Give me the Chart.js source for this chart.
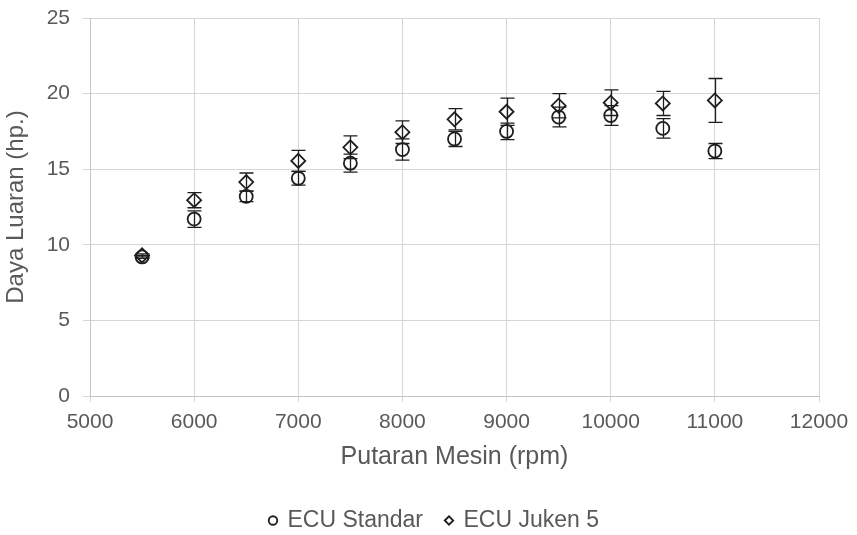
<!DOCTYPE html>
<html>
<head>
<meta charset="utf-8">
<script src="https://cdn.jsdelivr.net/npm/chart.js@4/dist/chart.umd.min.js"></script>
<style>
  html, body { margin: 0; padding: 0; background: #ffffff; }
  #wrap { width: 857px; height: 535px; }
</style>
</head>
<body>
<div id="wrap"><canvas id="chart" width="857" height="535"></canvas></div>
<script>
// Engine speed (rpm)
const rpm = [5500, 6000, 6500, 7000, 7500, 8000, 8500, 9000, 9500, 10000, 10500, 11000];

// Output power (hp) for the stock ECU, with error bar half-widths
const standar    = [9.2, 11.7, 13.2, 14.4, 15.4, 16.3, 17.0, 17.5, 18.45, 18.55, 17.7, 16.2];
const standarErr = [0.1, 0.55, 0.35, 0.45, 0.6, 0.7, 0.5, 0.55, 0.65, 0.65, 0.65, 0.5];

// Output power (hp) for the Juken 5 ECU, with error bar half-widths
const juken    = [9.3, 12.95, 14.15, 15.55, 16.45, 17.45, 18.3, 18.8, 19.2, 19.4, 19.35, 19.55];
const jukenErr = [0.1, 0.5, 0.6, 0.7, 0.75, 0.75, 0.7, 0.9, 0.8, 0.85, 0.8, 1.45];

// Axis tick values
const xTicks = [5000, 6000, 7000, 8000, 9000, 10000, 11000, 12000];
const yTicks = [0, 5, 10, 15, 20, 25];

const seriesNames = ['ECU Standar', 'ECU Juken 5'];

const textColor = '#595959';
const gridColor = '#d6d6d6';
const markColor = '#1e1e1e';
const fontFamily = '"Liberation Sans", Arial, sans-serif';

function toPoints(values) {
  return rpm.map((r, i) => ({ x: r, y: values[i] }));
}

// Vertical error bars with caps, drawn on top of the markers
const errorBars = {
  id: 'errorBars',
  afterDatasetsDraw(chart) {
    const { ctx, scales: { x, y } } = chart;
    const cap = 7;
    ctx.save();
    ctx.strokeStyle = markColor;
    ctx.lineWidth = 1.3;
    chart.data.datasets.forEach((ds) => {
      const errs = ds.errors || [];
      ds.data.forEach((p, i) => {
        const e = errs[i] || 0;
        if (!e) return;
        const px = Math.round(x.getPixelForValue(p.x)) + 0.5;
        const top = y.getPixelForValue(p.y + e);
        const bot = y.getPixelForValue(p.y - e);
        ctx.beginPath();
        ctx.moveTo(px, top); ctx.lineTo(px, bot);
        ctx.moveTo(px - cap, top); ctx.lineTo(px + cap, top);
        ctx.moveTo(px - cap, bot); ctx.lineTo(px + cap, bot);
        ctx.stroke();
      });
    });
    ctx.restore();
  }
};

// Centre the legend row under the whole canvas rather than the narrower layout box
const legendOffset = {
  id: 'legendOffset',
  afterLayout(chart) {
    const lg = chart.legend;
    if (!lg) return;
    const shift = 25;
    lg.left += shift;
    lg.right += shift;
  }
};

new Chart(document.getElementById('chart'), {
  type: 'scatter',
  data: {
    datasets: [
      {
        label: seriesNames[0],
        data: toPoints(standar),
        errors: standarErr,
        pointStyle: 'circle',
        pointRadius: 6.5,
        pointHoverRadius: 6.5,
        pointBorderWidth: 1.8,
        borderColor: markColor,
        backgroundColor: 'rgba(255,255,255,0)',
        showLine: false
      },
      {
        label: seriesNames[1],
        data: toPoints(juken),
        errors: jukenErr,
        pointStyle: 'rectRot',
        pointRadius: 7,
        pointHoverRadius: 7,
        pointBorderWidth: 1.8,
        borderColor: markColor,
        backgroundColor: 'rgba(255,255,255,0)',
        showLine: false
      }
    ]
  },
  options: {
    responsive: false,
    animation: false,
    devicePixelRatio: 1,
    layout: { padding: { top: 18, right: 38, bottom: -7, left: 0 } },
    plugins: {
      tooltip: { enabled: false },
      legend: {
        position: 'bottom',
        labels: {
          usePointStyle: true,
          boxWidth: 6,
          boxHeight: 6,
          padding: 23,
          color: textColor,
          font: { family: fontFamily, size: 23 }
        }
      }
    },
    scales: {
      x: {
        type: 'linear',
        min: 5000,
        max: 12000,
        afterBuildTicks: (scale) => { scale.ticks = xTicks.map(v => ({ value: v })); },
        afterFit: (scale) => { scale.height = 90; },
        ticks: {
          color: textColor,
          padding: 8,
          font: { family: fontFamily, size: 21 },
          callback: (v) => String(v)
        },
        grid: { color: gridColor, tickColor: gridColor, tickLength: 6, lineWidth: 1 },
        border: { color: '#c4c4c4', width: 1 },
        title: {
          display: true,
          text: 'Putaran Mesin (rpm)',
          color: textColor,
          font: { family: fontFamily, size: 25 },
          padding: { top: 0, bottom: 14 }
        }
      },
      y: {
        type: 'linear',
        min: 0,
        max: 25,
        afterBuildTicks: (scale) => { scale.ticks = yTicks.map(v => ({ value: v })); },
        afterFit: (scale) => {
          scale.width = 90;
          scale.paddingTop = 0;
          scale.paddingBottom = 0;
        },
        ticks: {
          color: textColor,
          padding: 13,
          font: { family: fontFamily, size: 21 },
          callback: (v) => String(v)
        },
        grid: { color: gridColor, tickColor: gridColor, tickLength: 7, lineWidth: 1 },
        border: { color: '#c4c4c4', width: 1 },
        title: {
          display: true,
          text: 'Daya Luaran (hp.)',
          color: textColor,
          font: { family: fontFamily, size: 24 },
          padding: { top: 2, bottom: 0 }
        }
      }
    }
  },
  plugins: [errorBars, legendOffset]
});
</script>
</body>
</html>
